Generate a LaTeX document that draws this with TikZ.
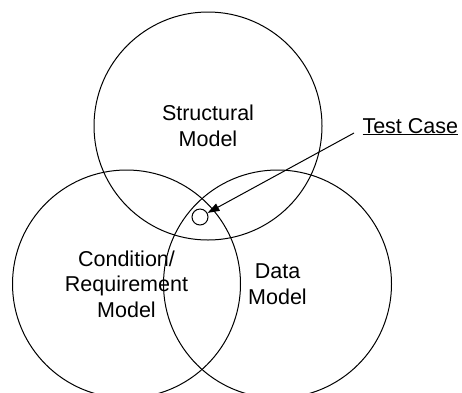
\documentclass[tikz,border=0pt]{standalone}
\usepackage{fontspec}
\setmainfont{Liberation Sans}
\usetikzlibrary{arrows.meta}
\begin{document}
\begin{tikzpicture}[x=1pt,y=-1pt,line width=1pt,
    model/.style={draw,circle,minimum size=228pt,inner sep=0pt,align=center,
      font=\fontsize{21.5}{25.5}\selectfont},
    callout/.style={inner sep=0pt,font=\fontsize{21.5}{25.5}\selectfont}]
      \useasboundingbox (0,0) rectangle (462,392);

      \node [model] (structural) at (208,126) {Structural\\Model};
      \node [model] (condition) at (126.5,284) {Condition/\\Requirement\\Model};
      \node [model] (data) at (277.5,284) {Data\\Model};

      \node [draw,circle,minimum size=16pt,inner sep=0pt] (testcase) at (200,217) {};
      \node [callout,anchor=base west] (testcaselabel) at (362,133) {\underline{Test Case}};
      \draw [-{Triangle[length=12pt,width=8pt]}] ([xshift=-8pt]testcaselabel.base west) -- (testcase);
    \end{tikzpicture}
\end{document}
